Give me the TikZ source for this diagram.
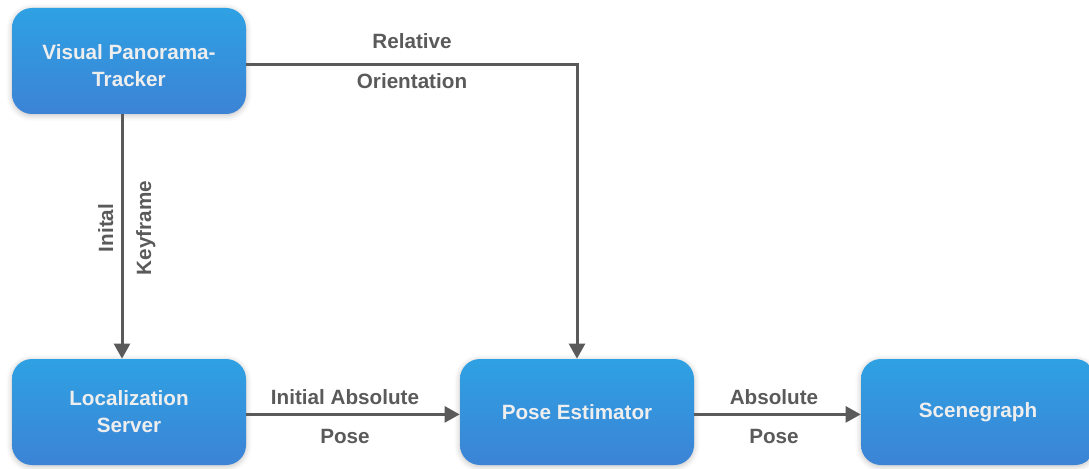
\documentclass[tikz,border=0pt]{standalone}
\usepackage{fontspec}
\setmainfont{Liberation Sans}
\usetikzlibrary{arrows.meta,shadows.blur}

\definecolor{boxtop}{RGB}{46,161,227}
\definecolor{boxbot}{RGB}{60,131,213}
\definecolor{wire}{RGB}{90,90,90}
\definecolor{boxtext}{RGB}{238,238,238}

\begin{document}
\begin{tikzpicture}[
        stage/.style={rectangle, rounded corners=0.5cm, minimum width=5.85cm,
            minimum height=2.65cm, top color=boxtop, bottom color=boxbot,
            text=boxtext, align=center,
            font=\fontsize{14.7}{19.2}\selectfont\bfseries,
            blur shadow={shadow xshift=0pt, shadow yshift=-1pt,
                shadow blur radius=4pt, shadow opacity=25}},
        lbl/.style={anchor=base, text=wire, font=\fontsize{14.7}{18}\selectfont\bfseries},
        flow/.style={draw=wire, line width=0.075cm,
            -{Triangle[length=0.38cm, width=0.4cm]}},
    ]

    \useasboundingbox (0,0) rectangle (27.225,-11.725);

    \node[stage] (tracker) at (3.225,-1.525)
        {\raisebox{-0.16cm}[\height][\depth]{\begin{tabular}{@{}c@{}}Visual Panorama-\\Tracker\end{tabular}}};
    \node[stage] (locsrv) at (3.225,-10.3) {Localization\\Server};
    \node[stage] (pose) at (14.425,-10.3) {Pose Estimator};
    \node[stage] (scene) at (24.45,-10.3) {Scenegraph};

    \path[flow] ([yshift=-0.08cm]tracker.east) -| (pose.north);
    \path[flow] ([xshift=-0.175cm]tracker.south) -- ([xshift=-0.175cm]locsrv.north);
    \path[flow] ([yshift=-0.06cm]locsrv.east) -- ([yshift=-0.06cm]pose.west);
    \path[flow] ([yshift=-0.06cm]pose.east) -- ([yshift=-0.06cm]scene.west);

    \node[lbl] (relA) at (10.3,-1.225) {Relative};
    \node[lbl] (relB) at (10.3,-2.225) {Orientation};
    \node[lbl, rotate=90] (keyA) at (2.825,-5.7) {Inital};
    \node[lbl, rotate=90] (keyB) at (3.775,-5.7) {Keyframe};
    \node[lbl] (initA) at (8.625,-10.1) {Initial Absolute};
    \node[lbl] (initB) at (8.625,-11.075) {Pose};
    \node[lbl] (absA) at (19.35,-10.1) {Absolute};
    \node[lbl] (absB) at (19.35,-11.075) {Pose};
\end{tikzpicture}
\end{document}
